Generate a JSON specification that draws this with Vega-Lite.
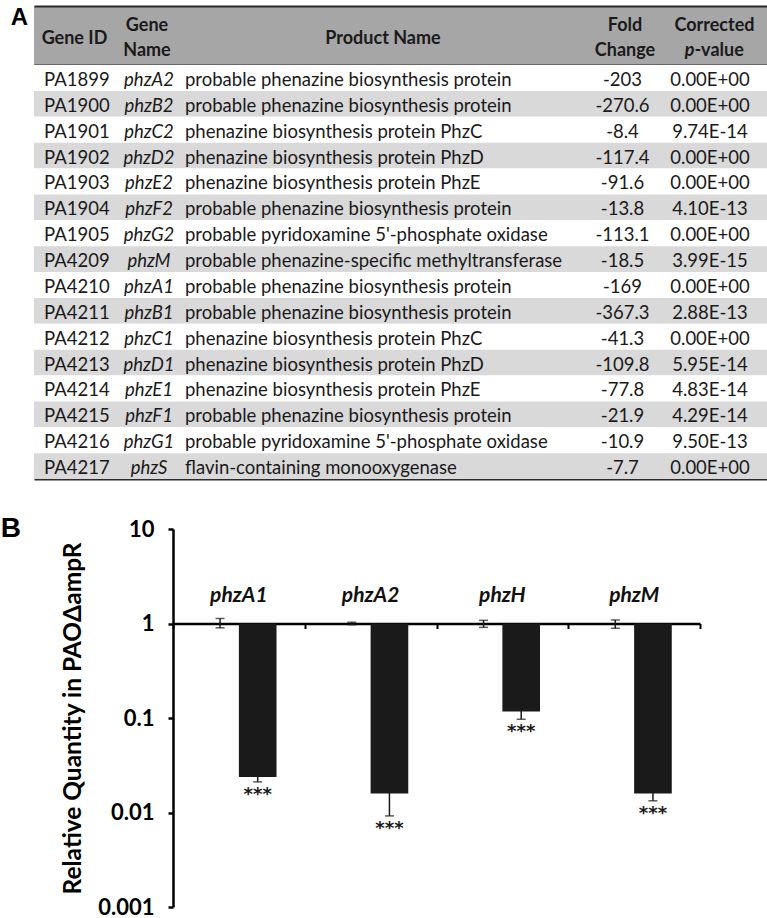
{
  "$schema": "https://vega.github.io/schema/vega-lite/v6.json",
  "padding": {"left": 0, "top": 6, "right": 0, "bottom": 0},
  "background": "white",
  "config": {"view": {"stroke": null}, "font": "Lato", "text": {"color": "#1a1a1a"}},
  "datasets": {
    "table": [
      {"id": "PA1899", "gene": "phzA2", "product": "probable phenazine biosynthesis protein", "fold": "-203", "p": "0.00E+00"},
      {"id": "PA1900", "gene": "phzB2", "product": "probable phenazine biosynthesis protein", "fold": "-270.6", "p": "0.00E+00"},
      {"id": "PA1901", "gene": "phzC2", "product": "phenazine biosynthesis protein PhzC", "fold": "-8.4", "p": "9.74E-14"},
      {"id": "PA1902", "gene": "phzD2", "product": "phenazine biosynthesis protein PhzD", "fold": "-117.4", "p": "0.00E+00"},
      {"id": "PA1903", "gene": "phzE2", "product": "phenazine biosynthesis protein PhzE", "fold": "-91.6", "p": "0.00E+00"},
      {"id": "PA1904", "gene": "phzF2", "product": "probable phenazine biosynthesis protein", "fold": "-13.8", "p": "4.10E-13"},
      {"id": "PA1905", "gene": "phzG2", "product": "probable pyridoxamine 5'-phosphate oxidase", "fold": "-113.1", "p": "0.00E+00"},
      {"id": "PA4209", "gene": "phzM", "product": "probable phenazine-specific methyltransferase", "fold": "-18.5", "p": "3.99E-15"},
      {"id": "PA4210", "gene": "phzA1", "product": "probable phenazine biosynthesis protein", "fold": "-169", "p": "0.00E+00"},
      {"id": "PA4211", "gene": "phzB1", "product": "probable phenazine biosynthesis protein", "fold": "-367.3", "p": "2.88E-13"},
      {"id": "PA4212", "gene": "phzC1", "product": "phenazine biosynthesis protein PhzC", "fold": "-41.3", "p": "0.00E+00"},
      {"id": "PA4213", "gene": "phzD1", "product": "phenazine biosynthesis protein PhzD", "fold": "-109.8", "p": "5.95E-14"},
      {"id": "PA4214", "gene": "phzE1", "product": "phenazine biosynthesis protein PhzE", "fold": "-77.8", "p": "4.83E-14"},
      {"id": "PA4215", "gene": "phzF1", "product": "probable phenazine biosynthesis protein", "fold": "-21.9", "p": "4.29E-14"},
      {"id": "PA4216", "gene": "phzG1", "product": "probable pyridoxamine 5'-phosphate oxidase", "fold": "-10.9", "p": "9.50E-13"},
      {"id": "PA4217", "gene": "phzS", "product": "flavin-containing monooxygenase", "fold": "-7.7", "p": "0.00E+00"}
    ],
    "qpcr": [
      {"gene": "phzA1", "strain": "PAO1", "value": 1, "lo": 0.90, "hi": 1.13, "sig": ""},
      {"gene": "phzA1", "strain": "PAOΔampR", "value": 0.0238, "lo": 0.0211, "hi": 0.0265, "sig": "***"},
      {"gene": "phzA2", "strain": "PAO1", "value": 1, "lo": 0.97, "hi": 1.03, "sig": ""},
      {"gene": "phzA2", "strain": "PAOΔampR", "value": 0.0159, "lo": 0.0092, "hi": 0.022, "sig": "***"},
      {"gene": "phzH", "strain": "PAO1", "value": 1, "lo": 0.91, "hi": 1.08, "sig": ""},
      {"gene": "phzH", "strain": "PAOΔampR", "value": 0.117, "lo": 0.097, "hi": 0.137, "sig": "***"},
      {"gene": "phzM", "strain": "PAO1", "value": 1, "lo": 0.89, "hi": 1.09, "sig": ""},
      {"gene": "phzM", "strain": "PAOΔampR", "value": 0.0159, "lo": 0.0133, "hi": 0.019, "sig": "***"}
    ]
  },
  "spacing": 36,
  "vconcat": [
    {
      "spacing": 0,
      "vconcat": [
        {
          "width": 733,
          "height": 59,
          "view": {"fill": "#a6a6a6", "stroke": null},
          "title": {"text": "A", "orient": "left", "anchor": "end", "angle": 0, "align": "left", "baseline": "top", "offset": 6, "font": "Liberation Sans", "fontSize": 24, "fontWeight": "bold", "color": "#000000"},
          "layer": [
            {
              "data": {"values": [{"h": "Gene ID"}]},
              "mark": {"type": "text", "fontWeight": "bold", "fontSize": 18, "align": "center", "dy": 3},
              "encoding": {
                "text": {"field": "h"},
                "x": {"datum": 40.5, "type": "quantitative", "scale": {"domain": [0, 733], "nice": false, "zero": false},
                      "axis": {"orient": "top", "domain": true, "domainColor": "#2b2b2b", "domainWidth": 2, "ticks": false, "labels": false, "grid": false, "title": null}}
              }
            },
            {
              "data": {"values": [{"h": "Gene\nName"}]},
              "mark": {"type": "text", "fontWeight": "bold", "fontSize": 18, "align": "center", "lineBreak": "\n", "lineHeight": 25, "dy": -9.5},
              "encoding": {"text": {"field": "h"}, "x": {"datum": 113, "type": "quantitative", "axis": null}}
            },
            {
              "data": {"values": [{"h": "Product Name"}]},
              "mark": {"type": "text", "fontWeight": "bold", "fontSize": 18, "align": "center", "dy": 3},
              "encoding": {"text": {"field": "h"}, "x": {"datum": 349, "type": "quantitative", "axis": null}}
            },
            {
              "data": {"values": [{"h": "Fold\nChange"}]},
              "mark": {"type": "text", "fontWeight": "bold", "fontSize": 18, "align": "center", "lineBreak": "\n", "lineHeight": 25, "dy": -9.5},
              "encoding": {"text": {"field": "h"}, "x": {"datum": 591, "type": "quantitative", "axis": null}}
            },
            {
              "data": {"values": [{"h": "Corrected"}]},
              "mark": {"type": "text", "fontWeight": "bold", "fontSize": 18, "align": "center", "dy": -9.5},
              "encoding": {"text": {"field": "h"}, "x": {"datum": 680.5, "type": "quantitative", "axis": null}}
            },
            {
              "data": {"values": [{"h": "p"}]},
              "mark": {"type": "text", "fontWeight": "bold", "fontStyle": "italic", "fontSize": 18, "align": "right", "dy": 15.5},
              "encoding": {"text": {"field": "h"}, "x": {"datum": 660.4, "type": "quantitative", "axis": null}}
            },
            {
              "data": {"values": [{"h": "-value"}]},
              "mark": {"type": "text", "fontWeight": "bold", "fontSize": 18, "align": "left", "dy": 15.5},
              "encoding": {"text": {"field": "h"}, "x": {"datum": 660.4, "type": "quantitative", "axis": null}}
            }
          ],
          "resolve": {"axis": {"x": "independent"}}
        },
        {
          "width": 733,
          "height": 414,
          "data": {"name": "table"},
          "transform": [{"window": [{"op": "row_number", "as": "rn"}]}],
          "encoding": {
            "y": {"field": "id", "type": "nominal", "sort": null, "axis": null, "scale": {"paddingInner": 0, "paddingOuter": 0}}
          },
          "layer": [
            {
              "mark": {"type": "rect"},
              "encoding": {
                "x": {"datum": 0, "type": "quantitative", "scale": {"domain": [0, 733], "nice": false, "zero": false},
                      "axis": {"orient": "top", "domain": true, "domainColor": "#2b2b2b", "domainWidth": 2, "ticks": false, "labels": false, "grid": false, "title": null}},
                "x2": {"datum": 733},
                "fill": {"condition": {"test": "datum.rn % 2 === 0", "value": "#d9d9d9"}, "value": "#ffffff"}
              }
            },
            {
              "mark": {"type": "text", "fontSize": 18.5, "align": "left", "dy": 2},
              "encoding": {
                "text": {"field": "id"},
                "x": {"datum": 10, "type": "quantitative",
                      "axis": {"orient": "bottom", "domain": true, "domainColor": "#2b2b2b", "domainWidth": 2, "ticks": false, "labels": false, "grid": false, "title": null}}
              }
            },
            {
              "mark": {"type": "text", "fontSize": 18.5, "align": "center", "fontStyle": "italic", "dy": 2},
              "encoding": {"text": {"field": "gene"}, "x": {"datum": 115, "type": "quantitative", "axis": null}}
            },
            {
              "mark": {"type": "text", "fontSize": 18.5, "align": "left", "dy": 2},
              "encoding": {"text": {"field": "product"}, "x": {"datum": 151, "type": "quantitative", "axis": null}}
            },
            {
              "mark": {"type": "text", "fontSize": 18.5, "align": "center", "dy": 2},
              "encoding": {"text": {"field": "fold"}, "x": {"datum": 588.5, "type": "quantitative", "axis": null}}
            },
            {
              "mark": {"type": "text", "fontSize": 18.5, "align": "center", "dy": 2},
              "encoding": {"text": {"field": "p"}, "x": {"datum": 676, "type": "quantitative", "axis": null}}
            }
          ],
          "resolve": {"axis": {"x": "independent"}}
        }
      ]
    },
    {
      "width": 666,
      "height": 378,
      "data": {"name": "qpcr"},
      "title": {"text": "B", "orient": "left", "anchor": "end", "angle": 0, "align": "left", "baseline": "top", "offset": 13, "font": "Liberation Sans", "fontSize": 28, "fontWeight": "bold", "color": "#000000", "dy": -3},
      "encoding": {
        "x": {"field": "gene", "type": "nominal", "sort": null, "scale": {"range": [139, 666], "paddingInner": 0, "paddingOuter": 0},
              "axis": {"orient": "bottom", "offset": -283.5, "title": null, "labels": false, "domain": true, "domainColor": "#000000", "domainWidth": 2.5, "ticks": true, "tickBand": "extent", "tickSize": 5, "tickWidth": 2, "tickColor": "#000000", "grid": false}}
      },
      "layer": [
        {
          "mark": {"type": "bar"},
          "encoding": {
            "xOffset": {"field": "strain", "type": "nominal", "sort": null, "scale": {"paddingInner": 0, "paddingOuter": 0.75}},
            "y": {"field": "value", "type": "quantitative", "scale": {"type": "log", "domain": [0.001, 10], "nice": false},
                  "axis": {"offset": -139, "values": [0.001, 0.01, 0.1, 1, 10], "format": "~g", "title": "Relative Quantity in PAOΔampR", "titleFont": "Lato", "titleFontSize": 24.5, "titleFontWeight": "bold", "titleColor": "#000000", "titlePadding": 12, "labelFont": "Lato", "labelFontSize": 22, "labelFontWeight": "bold", "labelColor": "#000000", "labelPadding": 14, "tickSize": 5, "tickWidth": 2.5, "tickColor": "#000000", "domainColor": "#000000", "domainWidth": 2.5, "grid": false, "labelOverlap": false}},
            "y2": {"datum": 1},
            "fill": {"field": "strain", "type": "nominal", "scale": {"domain": ["PAO1", "PAOΔampR"], "range": ["#ffffff", "#1a1a1a"]}, "legend": null}
          }
        },
        {
          "mark": {"type": "rule", "color": "#1a1a1a", "strokeWidth": 1.5},
          "encoding": {
            "xOffset": {"field": "strain", "type": "nominal", "sort": null},
            "y": {"field": "lo", "type": "quantitative", "axis": null},
            "y2": {"field": "hi"}
          }
        },
        {
          "mark": {"type": "tick", "color": "#1a1a1a", "size": 9, "thickness": 1.5},
          "encoding": {
            "xOffset": {"field": "strain", "type": "nominal", "sort": null},
            "y": {"field": "lo", "type": "quantitative", "axis": null}
          }
        },
        {
          "transform": [{"filter": "datum.strain === 'PAO1'"}],
          "mark": {"type": "tick", "color": "#1a1a1a", "size": 9, "thickness": 1.5},
          "encoding": {
            "xOffset": {"field": "strain", "type": "nominal", "sort": null},
            "y": {"field": "hi", "type": "quantitative", "axis": null}
          }
        },
        {
          "transform": [{"filter": "datum.sig !== ''"}],
          "mark": {"type": "text", "font": "DejaVu Sans", "fontSize": 18, "fontWeight": "bold", "baseline": "middle", "dy": 13, "color": "#1a1a1a"},
          "encoding": {
            "xOffset": {"field": "strain", "type": "nominal", "sort": null},
            "y": {"field": "lo", "type": "quantitative", "axis": null},
            "text": {"field": "sig"}
          }
        },
        {
          "transform": [{"filter": "datum.strain === 'PAO1'"}],
          "mark": {"type": "text", "fontSize": 21, "fontWeight": "bold", "fontStyle": "italic", "baseline": "alphabetic", "dy": -22, "color": "#111111"},
          "encoding": {
            "y": {"datum": 1, "type": "quantitative", "axis": null},
            "text": {"field": "gene"}
          }
        }
      ],
      "resolve": {"axis": {"y": "independent"}}
    }
  ]
}
